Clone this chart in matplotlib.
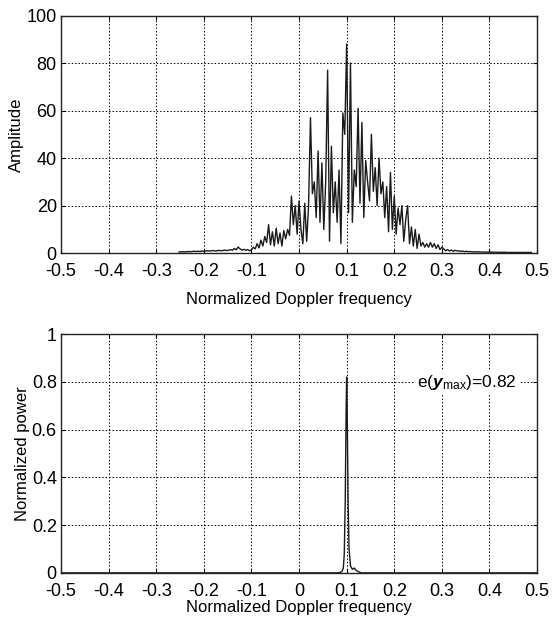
import numpy as np
import matplotlib
matplotlib.use("Agg")
import matplotlib.pyplot as plt

plt.rcParams['font.family'] = ['Liberation Sans', 'DejaVu Sans']
plt.rcParams['mathtext.fontset'] = 'custom'
plt.rcParams['mathtext.rm'] = 'Liberation Sans'
plt.rcParams['mathtext.it'] = 'Liberation Sans:italic'
plt.rcParams['mathtext.bf'] = 'Liberation Sans:bold'
plt.rcParams['mathtext.bfit'] = 'Liberation Sans:italic:bold'

# top panel: Doppler spectrum amplitude, sampled every 0.004 from -0.252
f0 = -0.252
df = 0.004
amp = [
    # -0.252 .. -0.152
    0.5, 0.5, 0.6, 0.5, 0.6, 0.7, 0.6, 0.7, 0.8, 0.7, 0.8, 0.7, 0.9,
    0.8, 0.9, 1.0, 0.9, 1.0, 1.1, 0.9, 1.0, 1.2, 1.0, 1.1, 1.3, 1.1,
    # -0.148 .. -0.100
    1.2, 1.5, 1.2, 2.0, 1.4, 2.6, 1.8, 1.3, 1.6, 1.2, 1.5, 1.0, 1.4,
    # -0.096 .. -0.052
    2.5, 1.8, 4.0, 2.2, 5.5, 3.0, 7.0, 4.5, 12.0, 3.5, 9.0, 3.0,
    # -0.048 .. -0.020
    10.5, 4.0, 8.5, 3.0, 9.5, 6.0, 10.0, 7.5,
    # -0.016 .. 0.020
    24.0, 12.0, 20.0, 8.0, 22.0, 10.0, 4.0, 21.0, 5.0, 20.0,
    # 0.024 .. 0.060
    57.0, 25.0, 30.0, 15.0, 43.0, 13.0, 38.0, 10.0, 30.0, 77.0,
    # 0.064 .. 0.100
    5.0, 45.0, 17.0, 30.0, 13.0, 35.0, 4.0, 59.0, 50.0, 88.0,
    # 0.104 .. 0.140
    17.0, 80.0, 13.0, 35.0, 28.0, 61.0, 21.0, 55.0, 15.0, 39.0,
    # 0.144 .. 0.188
    30.0, 22.0, 50.0, 26.0, 36.0, 20.0, 40.0, 25.0, 30.0, 15.0, 28.0, 9.0,
    # 0.192 .. 0.256
    34.0, 10.0, 24.0, 8.0, 19.0, 12.0, 20.0, 5.0, 14.0, 20.0, 4.0, 11.0,
    3.0, 10.0, 2.0, 8.0, 3.0,
    # 0.260 .. 0.300
    4.5, 2.5, 4.0, 2.5, 4.5, 2.5, 4.0, 2.0, 3.5, 1.5, 2.5,
    # 0.304 .. 0.488
    1.8, 1.0, 1.5, 0.9, 1.3, 0.8, 1.2, 0.9, 1.0, 0.7, 0.9, 0.6, 0.8,
    0.6, 0.7, 0.5, 0.6, 0.5, 0.6, 0.5, 0.5, 0.4, 0.5, 0.4, 0.5, 0.4,
    0.4, 0.4, 0.4, 0.3, 0.4, 0.3, 0.4, 0.3, 0.3, 0.3, 0.3, 0.3, 0.3,
    0.3, 0.3, 0.3, 0.3, 0.3, 0.3, 0.3, 0.3,
]
freq = f0 + df * np.arange(len(amp))

# bottom panel: normalized power
pw_freq = [-0.5, 0.080, 0.086, 0.090, 0.093, 0.095, 0.097, 0.099, 0.100, 0.101,
           0.103, 0.105, 0.108, 0.112, 0.116, 0.120, 0.125, 0.130, 0.5]
pw = [0.0, 0.0, 0.002, 0.005, 0.02, 0.08, 0.3, 0.7, 0.82, 0.7,
      0.3, 0.1, 0.03, 0.015, 0.02, 0.01, 0.005, 0.0, 0.0]

xticks = np.round(np.arange(-0.5, 0.51, 0.1), 1)
xticklabels = ['-0.5', '-0.4', '-0.3', '-0.2', '-0.1', '0', '0.1', '0.2', '0.3', '0.4', '0.5']

fig = plt.figure(figsize=(5.52, 6.22), dpi=100)
ax1 = fig.add_axes([0.1105, 0.593, 0.8625, 0.382])
ax2 = fig.add_axes([0.1105, 0.079, 0.8625, 0.384])


def style(ax):
    ax.set_xlim(-0.5, 0.5)
    ax.set_xticks(xticks)
    ax.set_xticklabels(xticklabels)
    ax.grid(True, color='black', linestyle=(0, (1.5, 2)), linewidth=0.7)
    ax.tick_params(direction='in', length=3, labelsize=13, width=0.8,
                   top=True, right=True)
    ax.tick_params(axis='x', pad=7)
    ax.tick_params(axis='y', pad=3)
    for s in ax.spines.values():
        s.set_linewidth(1.0)
        s.set_color('#222222')


ax1.plot(freq, amp, color='#1a1a1a', linewidth=1.0)
style(ax1)
ax1.set_ylim(0, 100)
ax1.set_yticks([0, 20, 40, 60, 80, 100])
ax1.set_xlabel('Normalized Doppler frequency', fontsize=12, labelpad=9)
ax1.set_ylabel('Amplitude', fontsize=12, labelpad=2)

ax2.plot(pw_freq, pw, color='#1a1a1a', linewidth=1.0)
style(ax2)
ax2.set_ylim(0, 1)
ax2.set_yticks([0, 0.2, 0.4, 0.6, 0.8, 1])
ax2.set_yticklabels(['0', '0.2', '0.4', '0.6', '0.8', '1'])
ax2.set_xlabel('Normalized Doppler frequency', fontsize=12, labelpad=0.5)
ax2.set_ylabel('Normalized power', fontsize=12, labelpad=1)
ax2.text(0.353, 0.795, r'e($\boldsymbol{y}_{\mathrm{max}}$)=0.82', fontsize=12.5,
         ha='center', va='center',
         bbox=dict(facecolor='white', edgecolor='none', pad=1.5))

fig.savefig('out.png', dpi=100)
